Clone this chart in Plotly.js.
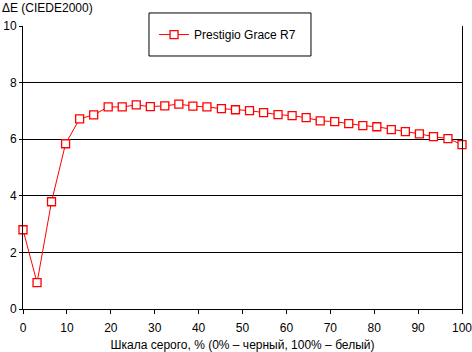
<!DOCTYPE html>
<html><head><meta charset="utf-8">
<script src="https://cdn.plot.ly/plotly-3.0.1.min.js"></script>
<style>body{margin:0;padding:0;background:#fff}#chart{width:472px;height:352px}</style>
</head><body><div id="chart"></div>
<script>
var grayLevels = [0, 3.2, 6.5, 9.7, 12.9, 16.1, 19.4, 22.6, 25.8, 29.0, 32.3, 35.5, 38.7, 41.9, 45.2, 48.4,
  51.6, 54.8, 58.1, 61.3, 64.5, 67.7, 71.0, 74.2, 77.4, 80.6, 83.9, 87.1, 90.3, 93.5, 96.8, 100];
var deltaE = [2.80, 0.93, 3.79, 5.84, 6.72, 6.86, 7.14, 7.14, 7.21, 7.15, 7.18, 7.24, 7.17, 7.14, 7.08, 7.04,
  7.01, 6.94, 6.87, 6.83, 6.76, 6.65, 6.62, 6.55, 6.48, 6.44, 6.34, 6.27, 6.19, 6.09, 6.02, 5.81];
var seriesName = 'Prestigio Grace R7';
var xTickVals = [0, 10, 20, 30, 40, 50, 60, 70, 80, 90, 100];
var yTickVals = [0, 2, 4, 6, 8, 10];
var yTitle = '\u0394E (CIEDE2000)';
var xTitle = 'Шкала серого, % (0% – черный, 100% – белый)';

var font = {family: 'Liberation Sans, Arial, sans-serif', size: 12, color: '#000'};
Plotly.newPlot('chart', [{
  x: grayLevels, y: deltaE, name: seriesName, type: 'scatter', mode: 'lines+markers',
  line: {color: '#ff0000', width: 1},
  marker: {symbol: 'square', size: 8, color: '#ffffff', line: {color: '#ff0000', width: 1.3}},
  cliponaxis: false,
  showlegend: true
}], {
  width: 472, height: 352,
  margin: {l: 23, r: 10, t: 26, b: 43},
  paper_bgcolor: '#fff', plot_bgcolor: '#fff',
  font: font,
  xaxis: {range: [0, 100], tickvals: xTickVals, ticks: 'outside', ticklen: 4, tickcolor: '#000',
    ticklabelstandoff: 4, ticklabeloverflow: 'allow',
    showline: true, linecolor: '#000', linewidth: 1, showgrid: false, zeroline: false,
    title: {text: xTitle, font: font, standoff: 6}, tickfont: font, fixedrange: true},
  yaxis: {range: [0, 10], tickvals: yTickVals, ticks: 'outside', ticklen: 3, tickcolor: '#000',
    showline: true, mirror: true, linecolor: '#000', linewidth: 1,
    showgrid: true, gridcolor: '#000', gridwidth: 1, zeroline: false, tickfont: font, fixedrange: true},
  legend: {x: 0.2985, y: 1.021, xanchor: 'left', yanchor: 'top', borderwidth: 0,
    bgcolor: 'rgba(0,0,0,0)', font: font},
  shapes: [{type: 'rect', xref: 'paper', yref: 'paper', x0: 0.287, x1: 0.656, y0: 0.894, y1: 1.046,
    fillcolor: '#fff', line: {color: '#000', width: 1}, layer: 'above'}],
  annotations: [{text: yTitle, xref: 'paper', yref: 'paper', x: -0.052, y: 1.0, yshift: 18,
    xanchor: 'left', yanchor: 'middle', showarrow: false, font: font}]
}, {displayModeBar: false, staticPlot: true});
</script></body></html>
